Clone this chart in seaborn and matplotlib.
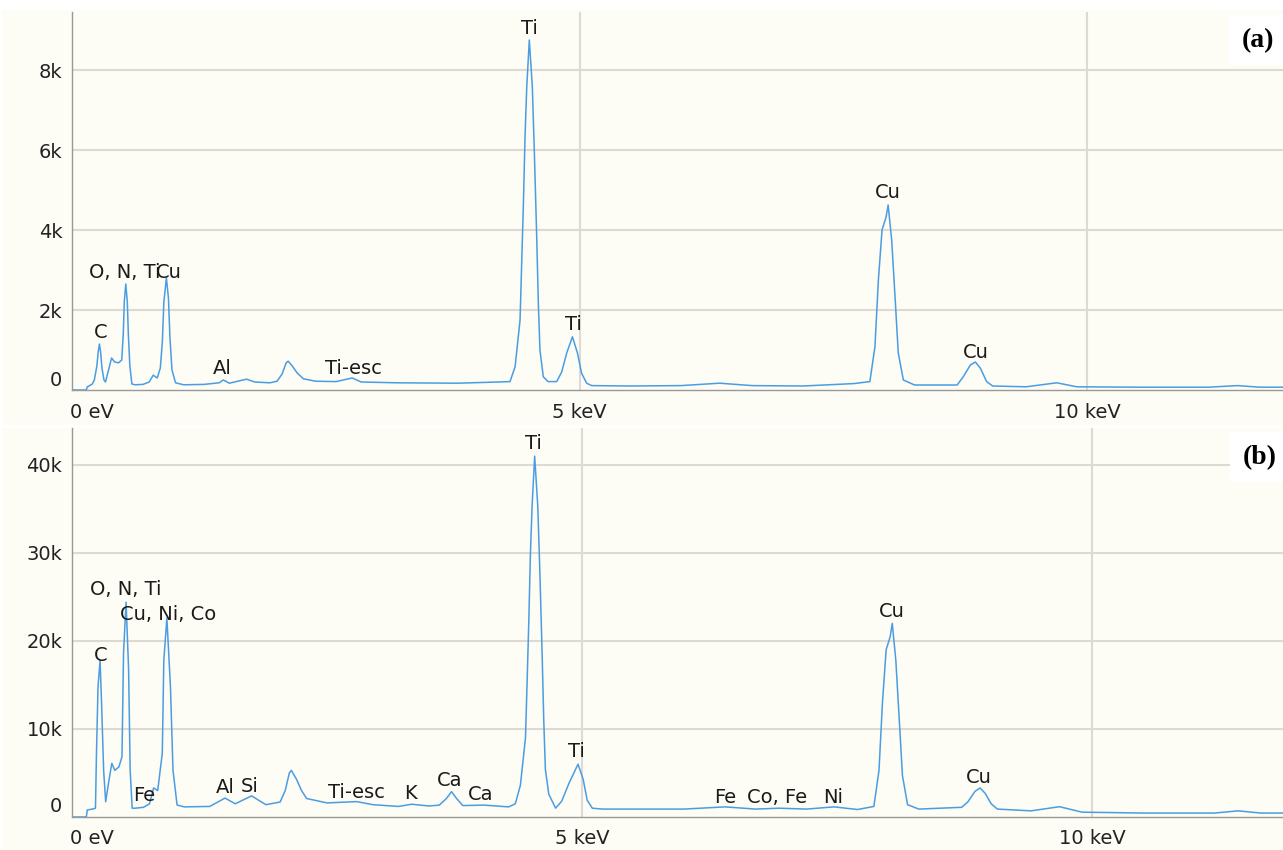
import matplotlib.pyplot as plt
import matplotlib.transforms as mtransforms
from matplotlib.patches import Rectangle
from matplotlib.ticker import FixedLocator, MultipleLocator
import pandas as pd
import seaborn as sns

# Spectrum (a) - energy in keV, counts
energia_a = [0.00, 0.14, 0.15, 0.20, 0.22, 0.245, 0.258, 0.27, 0.282, 0.295, 0.315, 0.33, 0.36, 0.39,
             0.42, 0.46, 0.49, 0.505, 0.515, 0.53, 0.545, 0.555, 0.57, 0.59, 0.62, 0.70, 0.76, 0.80,
             0.84, 0.87, 0.89, 0.905, 0.93, 0.95, 0.965, 0.985, 1.02, 1.10, 1.30, 1.45, 1.49, 1.55,
             1.65, 1.72, 1.80, 1.95, 2.02, 2.07, 2.11, 2.13, 2.17, 2.22, 2.28, 2.40, 2.60, 2.76, 2.85,
             3.20, 3.80, 4.20, 4.315, 4.365, 4.414, 4.43, 4.447, 4.463, 4.48, 4.505, 4.535, 4.555,
             4.578, 4.594, 4.61, 4.643, 4.69, 4.775, 4.824, 4.873, 4.93, 4.98, 5.02, 5.07, 5.12,
             5.50, 6.00, 6.38, 6.70, 7.20, 7.70, 7.86, 7.91, 7.944, 7.98, 8.02, 8.04, 8.075, 8.108,
             8.14, 8.19, 8.30, 8.72, 8.78, 8.85, 8.90, 8.95, 9.01, 9.07, 9.40, 9.70, 9.90, 10.5,
             11.2, 11.48, 11.7, 11.93]
contagem_a = [0, 0, 75, 150, 250, 600, 950, 1150, 950, 550, 250, 200, 500, 800,
              700, 680, 750, 1400, 2200, 2650, 2200, 1400, 600, 150, 130, 140, 200, 370,
              300, 550, 1200, 2200, 2800, 2300, 1300, 500, 180, 130, 140, 180, 250, 170,
              230, 270, 200, 180, 220, 400, 680, 720, 600, 420, 280, 220, 210, 300, 200,
              180, 170, 200, 210, 580, 1750, 3170, 4670, 6330, 7580, 8750, 7580, 5920,
              3830, 2170, 1000, 330, 210, 210, 450, 920, 1330, 920, 420, 170, 110,
              100, 110, 170, 110, 100, 160, 210, 1080, 2750, 4000, 4325, 4625, 3750, 2330,
              920, 250, 125, 125, 330, 625, 700, 540, 210, 100, 80, 180, 80, 70,
              70, 110, 70, 70]

# Spectrum (b)
energia_b = [0.00, 0.14, 0.15, 0.20, 0.23, 0.24, 0.255, 0.275, 0.29, 0.31, 0.33, 0.36, 0.39,
             0.42, 0.46, 0.49, 0.505, 0.53, 0.555, 0.57, 0.59, 0.62, 0.70, 0.76, 0.80,
             0.84, 0.885, 0.90, 0.93, 0.965, 0.99, 1.03, 1.10, 1.35, 1.50, 1.60, 1.76, 1.90,
             2.04, 2.09, 2.13, 2.15, 2.20, 2.25, 2.30, 2.50, 2.79, 2.95, 3.20, 3.33, 3.50,
             3.60, 3.67, 3.72, 3.77, 3.83, 4.04, 4.28, 4.345, 4.395, 4.445, 4.46, 4.477, 4.493,
             4.51, 4.535, 4.565, 4.585, 4.608, 4.624, 4.64, 4.673, 4.74, 4.80, 4.87, 4.96,
             5.01, 5.05, 5.10, 5.20, 6.00, 6.40, 6.70, 6.93, 7.20, 7.47, 7.70, 7.86, 7.91,
             7.944, 7.98, 8.02, 8.04, 8.075, 8.108, 8.14, 8.19, 8.30, 8.72, 8.78, 8.85, 8.90,
             8.95, 9.01, 9.07, 9.40, 9.68, 9.90, 10.5, 11.2, 11.43, 11.65, 11.87]
contagem_b = [0, 0, 800, 900, 1000, 7300, 14800, 17800, 12900, 5300, 1740, 4000, 6100,
              5300, 5700, 6850, 18600, 24400, 16700, 5300, 1000, 1000, 1100, 1500, 3300,
              3000, 7250, 17800, 22600, 14800, 5300, 1360, 1150, 1200, 2150, 1500, 2400, 1400,
              1700, 3000, 5000, 5300, 4300, 3000, 2100, 1600, 1750, 1400, 1200, 1450, 1250,
              1350, 2100, 2880, 2100, 1300, 1350, 1150, 1500, 3600, 9000, 15000, 22000, 29800,
              35400, 41000, 35400, 28200, 18600, 11000, 5400, 2600, 1000, 1800, 3800, 6000,
              4300, 1900, 1000, 900, 900, 1150, 900, 1000, 900, 1150, 850, 1200, 5300,
              13000, 19000, 20500, 22000, 17800, 11200, 4700, 1400, 900, 1100, 1700, 2900, 3300,
              2700, 1500, 900, 700, 1170, 550, 450, 450, 700, 450, 450]

# Peak labels: text, energy, counts
rotulos_a = ['C', 'O, N, Ti', 'Cu', 'Al', 'Ti-esc', 'Ti', 'Ti', 'Cu', 'Cu']
rotulos_a_x = [0.28, 0.52, 0.95, 1.48, 2.77, 4.51, 4.94, 8.04, 8.90]
rotulos_a_y = [1450, 2950, 2950, 550, 550, 9050, 1625, 4925, 950]

rotulos_b = ['C', 'O, N, Ti', 'Cu, Ni, Co', 'Fe', 'Al', 'Si', 'Ti-esc', 'K', 'Ca', 'Ca',
             'Ti', 'Ti', 'Fe', 'Co, Fe', 'Ni', 'Cu', 'Cu']
rotulos_b_x = [0.28, 0.53, 0.94, 0.71, 1.50, 1.74, 2.79, 3.32, 3.70, 4.01,
               4.52, 4.94, 6.40, 6.91, 7.46, 8.04, 8.89]
rotulos_b_y = [18400, 25800, 23060, 2400, 3300, 3500, 2840, 2700, 4100, 2500,
               42400, 7400, 2270, 2270, 2270, 23300, 4540]

sns.set_theme(style='white')
plt.rcParams['font.family'] = ['DejaVu Sans']

creme = '#fdfcf5'
azul = '#4a9de3'
grade = '#dedad3'

fig = plt.figure(figsize=(12.83, 8.5), dpi=100, facecolor='white')

# cream panels behind each spectrum
fig.patches.append(Rectangle((2 / 1283, (850 - 425) / 850), 1, 415 / 850,
                             transform=fig.transFigure, facecolor=creme, edgecolor='none', zorder=-1))
fig.patches.append(Rectangle((2 / 1283, 0), 1, (850 - 428) / 850,
                             transform=fig.transFigure, facecolor=creme, edgecolor='none', zorder=-1))

ax1 = fig.add_axes([72 / 1283, (850 - 390) / 850, (1283 - 72) / 1283, 378 / 850])
ax2 = fig.add_axes([72 / 1283, (850 - 817) / 850, (1283 - 72) / 1283, 389 / 850])

paineis = [
    (ax1, energia_a, contagem_a, rotulos_a, rotulos_a_x, rotulos_a_y, 11.93, 9450,
     [0, 2000, 4000, 6000, 8000], ['0', '2k', '4k', '6k', '8k'], 400, '(a)', 0.979),
    (ax2, energia_b, contagem_b, rotulos_b, rotulos_b_x, rotulos_b_y, 11.87, 44200,
     [0, 10000, 20000, 30000, 40000], ['0', '10k', '20k', '30k', '40k'], 2000, '(b)', 0.981),
]

for ax, x, y, rot, rx, ry, xmax, ymax, yt, ytl, ymin_step, letra, lx in paineis:
    ax.set_facecolor('none')
    df = pd.DataFrame({'Energia': x, 'Contagem': y})
    sns.lineplot(data=df, x='Energia', y='Contagem', ax=ax, color=azul, linewidth=1.1,
                 estimator=None)
    ax.set_xlim(0, xmax)
    ax.set_ylim(0, ymax)
    ax.set_xlabel('')
    ax.set_ylabel('')

    # grid only at labelled ticks
    for v in yt[1:]:
        ax.axhline(v, color=grade, linewidth=1.5, zorder=0)
    for v in [5, 10]:
        ax.axvline(v, color=grade, linewidth=1.5, zorder=0)

    ax.xaxis.set_major_locator(FixedLocator([0, 5, 10]))
    ax.set_xticklabels(['0 eV', '5 keV', '10 keV'])
    ax.xaxis.set_minor_locator(MultipleLocator(1))
    ax.set_yticks(yt)
    ax.set_yticklabels(ytl)
    ax.yaxis.set_minor_locator(MultipleLocator(ymin_step))

    ax.tick_params(axis='both', which='both', direction='out', color='#777777',
                   labelsize=14, labelcolor='#222222')
    ax.tick_params(axis='both', which='major', length=5, width=1)
    ax.tick_params(axis='both', which='minor', length=3, width=1)
    ax.tick_params(axis='x', which='major', pad=4)
    ax.tick_params(axis='y', which='major', pad=2)
    for lab in ax.get_xticklabels():
        if lab.get_text() == '0 eV':
            lab.set_horizontalalignment('left')
            lab.set_transform(lab.get_transform() + mtransforms.ScaledTranslation(-0.02, 0, fig.dpi_scale_trans))
    # zero label sits a bit above the axis, like in the original software
    zero = ax.get_yticklabels()[0]
    zero.set_transform(zero.get_transform() + mtransforms.ScaledTranslation(0, 0.12, fig.dpi_scale_trans))

    for s in ['top', 'right']:
        ax.spines[s].set_visible(False)
    for s in ['left', 'bottom']:
        ax.spines[s].set_color('#999999')
        ax.spines[s].set_linewidth(1)

    for t, px, py in zip(rot, rx, ry):
        ax.text(px, py, t, ha='center', va='center', fontsize=14, color='#1a1a1a')

    ax.text(lx, 0.925, letra, transform=ax.transAxes,
            ha='center', va='center', fontsize=20, fontweight='bold',
            family='Liberation Serif', color='black',
            bbox=dict(boxstyle='square,pad=0.45', facecolor='white', edgecolor='none'))

plt.savefig('out.png', dpi=100, facecolor='white')
